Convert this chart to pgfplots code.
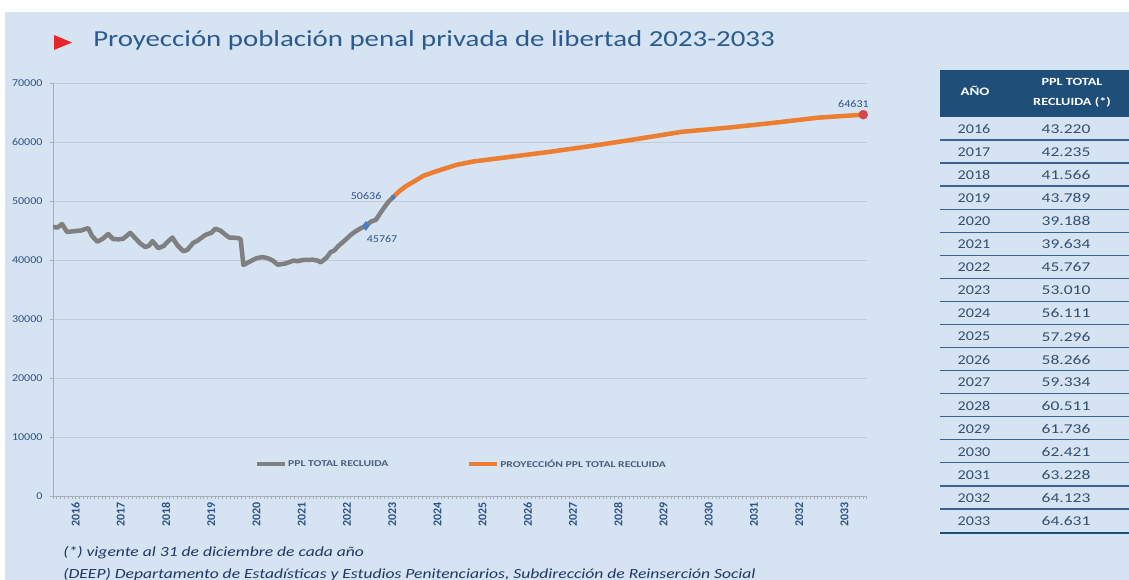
\documentclass[border=0pt]{standalone}
\usepackage{pgfplots}
\pgfplotsset{compat=1.18}
\usepackage{fontspec}
\setmainfont{Carlito}
\definecolor{bg}{HTML}{D6E3F2}
\definecolor{titleblue}{HTML}{2B5A8E}
\definecolor{titlered}{HTML}{E5262B}
\definecolor{tickblue}{HTML}{2E5286}
\definecolor{legtext}{HTML}{4A5F7E}
\definecolor{lgray}{HTML}{808080}
\definecolor{lorange}{HTML}{ED7D31}
\definecolor{mblue}{HTML}{4A7CC4}
\definecolor{mred}{HTML}{D0484B}
\definecolor{gridc}{HTML}{C3CCD8}
\definecolor{axisc}{HTML}{A6AEB8}
\definecolor{tblue}{HTML}{1F4E79}
\definecolor{ttext}{HTML}{34506F}
\definecolor{tsep}{HTML}{3A6391}
\definecolor{footblue}{HTML}{1F3864}
\begin{document}
\begin{tikzpicture}[x=1bp,y=1bp]
\useasboundingbox (0,0) rectangle (1129,580);
\fill[white] (0,0) rectangle (1129,580);
\fill[bg] (5,0) rectangle (1129,568);
% title
\fill[titlered] (54,545) -- (54,530) -- (72,537.5) -- cycle;
\node[anchor=base west, font=\fontsize{23}{27}\selectfont, text=titleblue, inner sep=0pt, xscale=1.26] at (93,533) {Proyección población penal privada de libertad 2023-2033};
\begin{axis}[
  at={(53bp,84bp)}, anchor=south west,
  scale only axis, width=814bp, height=413bp,
  xmin=2016, xmax=2034, ymin=0, ymax=70000,
  axis x line*=bottom, axis y line*=left,
  axis line style={axisc, line width=0.8bp},
  tick align=outside,
  ytick={0,10000,...,70000},
  scaled y ticks=false,
  yticklabel style={/pgf/number format/fixed, /pgf/number format/1000 sep={}, /pgf/number format/assume math mode=true, font=\fontsize{10.5}{11}\selectfont, text=tickblue, xscale=1.15, xshift=-3bp},
  ytick style={axisc, line width=0.8bp},
  major tick length=3bp,
  ymajorgrids, grid style={gridc, line width=0.8bp},
  xtick={2016,2016.0833333,...,2034.01},
  xticklabels={},
  xtick style={axisc, line width=0.6bp},
  extra x ticks={2016.5,2017.5,2018.5,2019.5,2020.5,2021.5,2022.5,2023.5,2024.5,2025.5,2026.5,2027.5,2028.5,2029.5,2030.5,2031.5,2032.5,2033.5},
  extra x tick labels={2016,2017,2018,2019,2020,2021,2022,2023,2024,2025,2026,2027,2028,2029,2030,2031,2032,2033},
  extra x tick style={major tick length=0bp, grid=none},
  xticklabel style={yshift=-3bp, rotate=90, anchor=east, font=\bfseries\fontsize{12}{12}\selectfont, text=tickblue},
  legend style={at={(0.501,0.0775)}, anchor=center, draw=none, fill=none, font=\bfseries\fontsize{9}{10}\selectfont, text=legtext, /tikz/every even column/.append style={column sep=78bp}, nodes={xscale=1.3, inner xsep=0.5bp}},
  legend columns=2,
  legend image code/.code={\draw[#1] (0bp,0bp) -- (28bp,0bp);},
]
\addplot[lgray, line width=4.5bp, line join=round] coordinates {
(2016.00,45600) (2016.10,45500) (2016.20,46100) (2016.31,44750) (2016.49,44900)
(2016.62,45000) (2016.78,45400) (2016.86,44100) (2016.98,43100) (2017.10,43600)
(2017.22,44400) (2017.33,43550) (2017.45,43500) (2017.55,43600) (2017.71,44600)
(2017.83,43600) (2017.93,42800) (2018.04,42200) (2018.12,42400) (2018.20,43200)
(2018.33,42000) (2018.45,42400) (2018.53,43050) (2018.64,43800) (2018.75,42500)
(2018.88,41500) (2018.97,41700) (2019.10,42900) (2019.20,43300) (2019.37,44250)
(2019.50,44600) (2019.59,45300) (2019.70,45000) (2019.81,44300) (2019.90,43800)
(2019.97,43800) (2020.10,43700) (2020.15,43500) (2020.21,39150) (2020.37,39800)
(2020.50,40300) (2020.63,40500) (2020.75,40300) (2020.86,39900) (2020.97,39200)
(2021.14,39400) (2021.32,39900) (2021.40,39800) (2021.54,40000) (2021.74,40050)
(2021.85,39900) (2021.92,39600) (2022.05,40400) (2022.14,41350) (2022.22,41600)
(2022.30,42300) (2022.45,43300) (2022.59,44300) (2022.70,44900) (2022.81,45400)
(2022.917,45767) (2023.03,46500) (2023.14,46800) (2023.25,48100) (2023.41,49800)
(2023.52,50636)
};
\addlegendentry{PPL TOTAL RECLUIDA}
\addplot[lorange, line width=4.5bp, line join=round] coordinates {
(2023.52,50636) (2023.65,51600) (2023.80,52500) (2023.917,53010) (2024.2,54300)
(2024.5,55100) (2024.917,56111) (2025.3,56700) (2025.917,57296) (2026.917,58266)
(2027.917,59334) (2028.917,60511) (2029.917,61736) (2030.917,62421) (2031.917,63228)
(2032.917,64123) (2033.917,64631)
};
\addlegendentry{PROYECCIÓN PPL TOTAL RECLUIDA}
\addplot[only marks, mark=diamond*, mark size=4.5bp, mblue, forget plot] coordinates {(2022.917,45767)};
\addplot[only marks, mark=*, mark size=2.2bp, mblue, forget plot] coordinates {(2023.52,50636)};
\addplot[only marks, mark=*, mark size=4.5bp, mred, forget plot] coordinates {(2033.917,64631)};
\node[anchor=east, font=\fontsize{10.5}{11}\selectfont, text=tickblue, xscale=1.15] at (axis cs:2023.35,50900) {50636};
\node[anchor=north west, font=\fontsize{10.5}{11}\selectfont, text=tickblue, xscale=1.15] at (axis cs:2022.85,44700) {45767};
\node[anchor=south, font=\fontsize{10.5}{11}\selectfont, text=tickblue, xscale=1.15] at (axis cs:2033.70,65200) {64631};
\end{axis}
% table
\fill[tblue] (940,510) rectangle (1129,463);
\node[font=\bfseries\fontsize{11.5}{12}\selectfont, text=white, xscale=1.3] at (975,489) {AÑO};
\node[font=\bfseries\fontsize{11}{12}\selectfont, text=white, xscale=1.3] at (1072,498) {PPL TOTAL};
\node[font=\bfseries\fontsize{11}{12}\selectfont, text=white, xscale=1.3] at (1072,478) {RECLUIDA (*)};
\foreach \yr/\val [count=\i from 0] in {2016/43.220,2017/42.235,2018/41.566,2019/43.789,2020/39.188,2021/39.634,2022/45.767,2023/53.010,2024/56.111,2025/57.296,2026/58.266,2027/59.334,2028/60.511,2029/61.736,2030/62.421,2031/63.228,2032/64.123,2033/64.631}{
  \node[font=\fontsize{13.5}{14}\selectfont, text=ttext, xscale=1.2] at (974,{451-23.06*\i}) {\yr};
  \node[font=\fontsize{13.5}{14}\selectfont, text=ttext, xscale=1.3] at (1066,{451-23.06*\i}) {\val};
}
\foreach \i in {0,...,16}{
  \draw[tsep, line width=1.3bp] (940,{440-23.06*\i}) -- (1129,{440-23.06*\i});
}
\draw[tblue, line width=2.5bp] (940,47) -- (1129,47);
% footnotes
\node[anchor=base west, inner sep=0pt, font=\itshape\fontsize{14}{16}\selectfont, text=footblue, xscale=1.26] at (63,23) {(*) vigente al 31 de diciembre de cada año};
\node[anchor=base west, inner sep=0pt, font=\itshape\fontsize{14}{16}\selectfont, text=footblue, xscale=1.26] at (63,1) {(DEEP) Departamento de Estadísticas y Estudios Penitenciarios, Subdirección de Reinserción Social};
\end{tikzpicture}
\end{document}
